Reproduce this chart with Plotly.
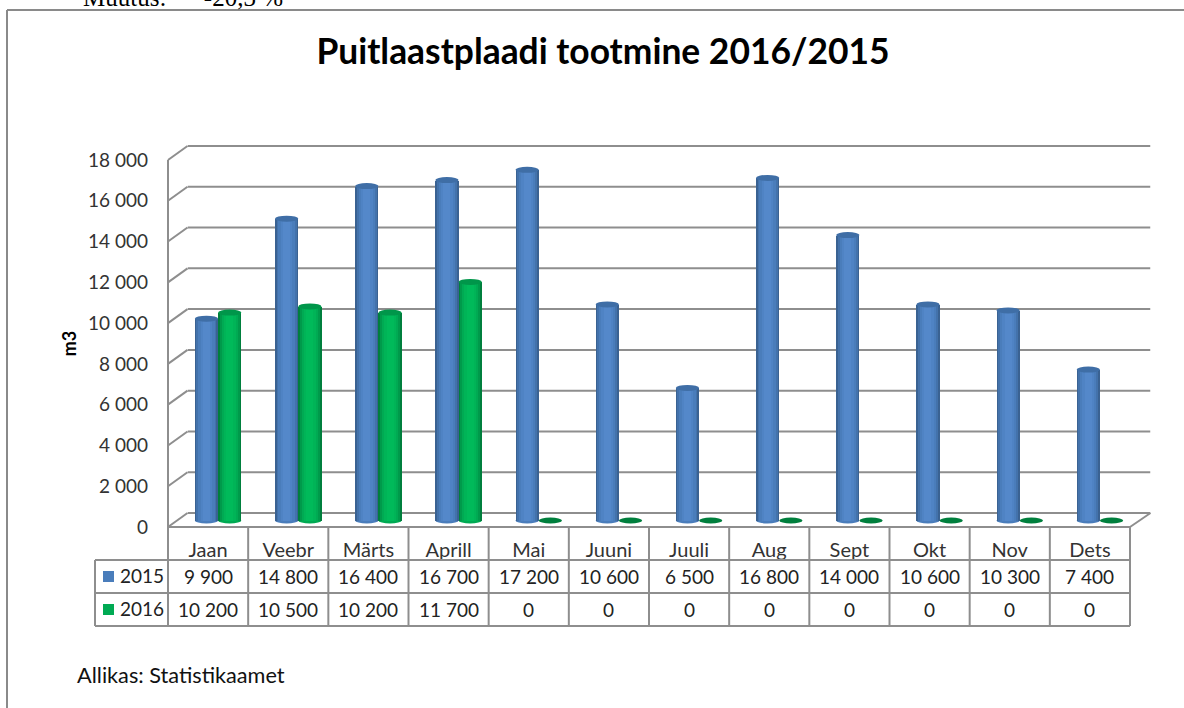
import plotly.graph_objects as go

categories = ["Jaan", "Veebr", "Märts", "Aprill", "Mai", "Juuni", "Juuli", "Aug", "Sept", "Okt", "Nov", "Dets"]
values_2015 = [9900, 14800, 16400, 16700, 17200, 10600, 6500, 16800, 14000, 10600, 10300, 7400]
values_2016 = [10200, 10500, 10200, 11700, 0, 0, 0, 0, 0, 0, 0, 0]
y_ticks = [0, 2000, 4000, 6000, 8000, 10000, 12000, 14000, 16000, 18000]

W, H = 1184, 708
LEFT, RIGHT, Y0, Y18 = 168, 1130, 527, 160
DX, DY = 19.5, 14
FONT = "Lato"
GRID = "#8E8E8E"
TXT = "#333333"
SCALE = (Y0 - Y18) / 18000
PAD = 1000


def px(x):
    return x / W


def py(y):
    return 1 - y / H


def fmt(v):
    return f"{v:,}".replace(",", " ")


LAYER_W = [1.0, 0.86, 0.7, 0.5, 0.3]
BLUE = ["#3A6292", "#4372AB", "#4A7DBB", "#4F83C4", "#5488CA"]
GREEN = ["#007F3D", "#009A4B", "#00AA53", "#00B457", "#00BA5A"]
BAR_W = 0.29
SHIFT = 0.145

fig = go.Figure()
shapes = []
xs = [i + 0.5 for i in range(len(categories))]

# back-wall gridlines and left wall stubs
for t in y_ticks:
    shapes.append(dict(type="line", xref="x", yref="y", x0=0, x1=12, y0=t, y1=t,
                       line=dict(color=GRID, width=2), layer="below"))
    yf = Y0 + (Y18 - Y0) * t / 18000
    shapes.append(dict(type="line", xref="paper", yref="paper", x0=px(LEFT), x1=px(LEFT + DX),
                       y0=py(yf), y1=py(yf - DY), line=dict(color=GRID, width=2), layer="below"))
# right floor edge
shapes.append(dict(type="line", xref="paper", yref="paper", x0=px(RIGHT), x1=px(RIGHT + DX + 1),
                   y0=py(Y0), y1=py(Y0 - DY), line=dict(color=GRID, width=2), layer="below"))

series = [
    ("2015", values_2015, -SHIFT, BLUE, "#3F6EA6"),
    ("2016", values_2016, SHIFT, GREEN, "#00964A"),
]
for name, vals, sh, cols, top in series:
    for frac, col in zip(LAYER_W, cols):
        w = BAR_W * frac
        fig.add_trace(go.Bar(
            x=xs, y=vals, width=w, offset=sh - w / 2, name=name,
            marker=dict(color=col, line=dict(width=0)),
            xaxis="x3", yaxis="y3", showlegend=False, hoverinfo="skip",
        ))
    for x, v in zip(xs, vals):
        cx = x + sh
        common = dict(type="circle", xref="x3", yref="y3", xsizemode="pixel", ysizemode="pixel",
                      xanchor=cx, line_width=0)
        pw = BAR_W * (RIGHT - LEFT) / 12
        if v > 0:
            shapes.append(dict(common, yanchor=0, x0=-pw / 2, x1=pw / 2, y0=-3, y1=3,
                               fillcolor=cols[2], layer="below"))
        shapes.append(dict(common, yanchor=v, x0=-pw / 2, x1=pw / 2, y0=-3, y1=3,
                           fillcolor=top if v > 0 else cols[0], layer="above"))


def line(x0, y0, x1, y1, color=GRID, width=2):
    shapes.append(dict(type="line", xref="paper", yref="paper", x0=px(x0), y0=py(y0), x1=px(x1), y1=py(y1),
                       line=dict(color=color, width=width), layer="above"))


# outer frame
line(7, 10, W, 10, "#8A8A8A", 2)
line(7, 10, 7, H, "#8A8A8A", 2)

# data table
COL = (RIGHT - LEFT) / 12
ROWS = [527, 560, 593, 626]
line(LEFT, 160, LEFT, ROWS[3])
line(LEFT, ROWS[0], RIGHT, ROWS[0])
for r in ROWS[1:]:
    line(95, r, RIGHT, r)
line(95, ROWS[1], 95, ROWS[3])
for i in range(1, 13):
    line(LEFT + COL * i, ROWS[0], LEFT + COL * i, ROWS[3])

annotations = []
for row, vals in ((1, values_2015), (2, values_2016)):
    cy = (ROWS[row] + ROWS[row + 1]) / 2
    for x, v in zip(xs, vals):
        annotations.append(dict(text=fmt(v), x=x, y=py(cy), xref="x2", yref="paper", showarrow=False,
                                xanchor="center", yanchor="middle", font=dict(family=FONT, size=19, color="#222222")))
    name, col = ("2015", BLUE[2]) if row == 1 else ("2016", GREEN[2])
    shapes.append(dict(type="rect", xref="paper", yref="paper", x0=px(103), x1=px(114),
                       y0=py(cy + 5.5), y1=py(cy - 5.5), fillcolor=col, line_width=0, layer="above"))
    annotations.append(dict(text=name, x=px(118), y=py(cy - 1), xref="paper", yref="paper", showarrow=False,
                            xanchor="left", yanchor="middle", font=dict(family=FONT, size=19, color="#222222")))

annotations.append(dict(text="Allikas: Statistikaamet", x=px(75), y=py(675), xref="paper", yref="paper",
                        showarrow=False, xanchor="left", yanchor="middle",
                        font=dict(family=FONT, size=21.7, color="#111111")))
annotations.append(dict(text="Muutus:\u00a0\u00a0\u00a0\u00a0\u00a0\u00a0-20,3 %", x=px(81), y=py(-3), xref="paper", yref="paper",
                        showarrow=False, xanchor="left", yanchor="middle",
                        font=dict(family="Liberation Serif", size=25, color="#000000")))

d_front = [1 - Y0 / H, 1 - Y18 / H]
fig.update_layout(
    width=W, height=H, margin=dict(l=0, r=0, t=0, b=0, autoexpand=False), autosize=False,
    paper_bgcolor="white", plot_bgcolor="rgba(0,0,0,0)", barmode="overlay", bargap=0,
    showlegend=False,
    title=dict(text="<b>Puitlaastplaadi tootmine 2016/2015</b>", x=603 / W, xanchor="center", xref="paper",
               y=py(52), yref="container", yanchor="middle", font=dict(family=FONT, size=35.4, color="#000000")),
    # back wall: carries the gridline shapes
    xaxis=dict(domain=[px(LEFT + DX), px(RIGHT + DX + 1)], range=[0, 12], anchor="y", visible=False),
    yaxis=dict(domain=[d_front[0] + (DY - PAD * SCALE) / H, d_front[1] + (DY + PAD * SCALE) / H],
               range=[-PAD, 18000 + PAD], anchor="x", visible=False),
    # front plane: tick labels
    xaxis2=dict(domain=[px(LEFT), px(RIGHT)], range=[0, 12], tickvals=xs, ticktext=categories, anchor="y2",
                showgrid=False, zeroline=False, showline=False, ticks="", ticklabelstandoff=9,
                tickfont=dict(family=FONT, size=20, color=TXT)),
    yaxis2=dict(domain=d_front, range=[0, 18000], tickvals=y_ticks, ticktext=[fmt(t) for t in y_ticks],
                anchor="x2", showgrid=False, zeroline=False, showline=False, ticks="", ticklabelstandoff=19,
                tickfont=dict(family=FONT, size=19, color=TXT),
                title=dict(text="<b>m3</b>", font=dict(family=FONT, size=18, color="#000000"), standoff=6)),
    # mid depth: columns
    xaxis3=dict(domain=[px(LEFT + 10), px(RIGHT + 10)], range=[0, 12], anchor="y3", visible=False),
    yaxis3=dict(domain=[d_front[0] + 6.5 / H - PAD * SCALE / H, d_front[1] + 6.5 / H], range=[-PAD, 18000],
                anchor="x3", visible=False),
    shapes=shapes, annotations=annotations,
)

fig.write_html("out.html", config={"displayModeBar": False},
               post_script="document.body.style.margin='0';document.body.style.overflow='hidden';")
